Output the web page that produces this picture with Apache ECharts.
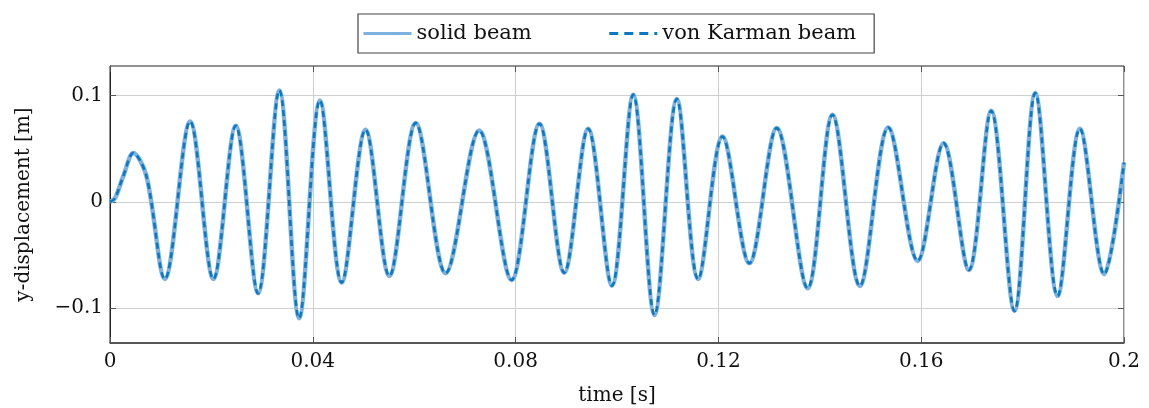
<!DOCTYPE html>
<html>
<head>
<meta charset="utf-8">
<script src="https://cdn.jsdelivr.net/npm/echarts@6/dist/echarts.min.js"></script>
<style>
html,body{margin:0;padding:0;background:#fff;}
#chart{width:1149px;height:408px;}
</style>
</head>
<body>
<div id="chart"></div>
<script>
// time [s] of the turning points (start, shoulder, peaks, troughs, end)
const time = [
  0, 0.0010, 0.0026, 0.0046, 0.0072, 0.0108, 0.0158, 0.0204, 0.0248, 0.0292,
  0.0334, 0.0373, 0.0414, 0.0457, 0.0504, 0.0551, 0.0603, 0.0662, 0.0728, 0.0792,
  0.0847, 0.0896, 0.0943, 0.0990, 0.1032, 0.1074, 0.1118, 0.1160, 0.1208, 0.1261,
  0.1315, 0.1376, 0.1425, 0.1479, 0.1535, 0.1593, 0.1644, 0.1694, 0.1738, 0.1784,
  0.1825, 0.1869, 0.1913, 0.1961, 0.2000
];
// y-displacement [m], solid beam
const solidBeam = [
  0, 0.0035, 0.024, 0.046, 0.024, -0.0727, 0.0758, -0.0727, 0.0717, -0.0862,
  0.105, -0.1097, 0.0956, -0.0761, 0.068, -0.0698, 0.0742, -0.0673, 0.0673, -0.0736,
  0.0736, -0.0667, 0.0689, -0.079, 0.101, -0.1066, 0.0969, -0.0727, 0.0616, -0.0578,
  0.0695, -0.0814, 0.0821, -0.0792, 0.0701, -0.0557, 0.0553, -0.0642, 0.0858, -0.1028,
  0.1025, -0.0887, 0.0689, -0.0682, 0.037
];
// y-displacement [m], von Karman beam (overlaps the solid beam)
const vonKarman = [
  0, 0.0035, 0.024, 0.046, 0.024, -0.0727, 0.0758, -0.0727, 0.0717, -0.0862,
  0.105, -0.1097, 0.0956, -0.0761, 0.068, -0.0698, 0.0742, -0.0673, 0.0673, -0.0736,
  0.0736, -0.0667, 0.0689, -0.079, 0.101, -0.1066, 0.0969, -0.0727, 0.0616, -0.0578,
  0.0695, -0.0814, 0.0821, -0.0792, 0.0701, -0.0557, 0.0553, -0.0642, 0.0858, -0.1028,
  0.1025, -0.0887, 0.0689, -0.0682, 0.037
];
const yTicks = [-0.1, 0, 0.1];
const seriesNames = ['solid beam', 'von Karman beam'];

const FONT = 'DejaVu Serif';
const zip = (a, b) => a.map((t, i) => [t, b[i]]);
const fmtY = v => v < 0 ? '\u2212' + Math.abs(v) : String(v);
const fmtX = v => String(Math.round(v * 100) / 100);

const chart = echarts.init(document.getElementById('chart'), null, {renderer: 'canvas'});
const tickStyle = {show: true, inside: true, length: 6, lineStyle: {color: '#555', width: 1}};
chart.setOption({
  animation: false,
  backgroundColor: '#fff',
  textStyle: {fontFamily: FONT},
  legend: {
    data: [
      {name: seriesNames[0]},
      {name: seriesNames[1], lineStyle: {type: [9, 6], width: 3}}
    ],
    left: 358, top: 14,
    padding: [9, 18, 9, 4],
    itemWidth: 48, itemHeight: 14, itemGap: 76,
    borderColor: '#444', borderWidth: 1.2,
    itemStyle: {opacity: 0},
    lineStyle: {width: 3},
    textStyle: {fontFamily: FONT, fontSize: 21, color: '#111'}
  },
  grid: {left: 110, right: 25, top: 66, bottom: 65, show: true, borderColor: '#222', borderWidth: 1,
         containLabel: false, outerBoundsMode: 'none'},
  xAxis: [{
    type: 'value', min: 0, max: 0.2, interval: 0.04,
    name: 'time [s]', nameLocation: 'middle', nameGap: 43,
    nameTextStyle: {fontFamily: FONT, fontSize: 20, color: '#111', verticalAlign: 'top'},
    axisLine: {show: true, onZero: false, lineStyle: {color: '#444', width: 1.5}},
    axisTick: tickStyle,
    axisLabel: {formatter: fmtX, fontFamily: FONT, fontSize: 20, color: '#111', margin: 9},
    splitLine: {show: true, lineStyle: {color: '#cfcfcf', width: 1}}
  }, {
    type: 'value', min: 0, max: 0.2, interval: 0.04, position: 'top',
    axisLine: {show: false, onZero: false}, axisTick: tickStyle, axisLabel: {show: false}, splitLine: {show: false}
  }],
  yAxis: [{
    type: 'value', min: -0.133, max: 0.128,
    name: 'y-displacement [m]', nameLocation: 'middle', nameGap: 76,
    nameTextStyle: {fontFamily: FONT, fontSize: 20, color: '#111'},
    axisLine: {show: true, onZero: false, lineStyle: {color: '#222', width: 1}},
    axisTick: Object.assign({customValues: yTicks}, tickStyle),
    axisLabel: {customValues: yTicks, formatter: fmtY, fontFamily: FONT, fontSize: 20, color: '#111', margin: 7},
    splitLine: {show: true, lineStyle: {color: '#cfcfcf', width: 1}}
  }, {
    type: 'value', min: -0.133, max: 0.128, position: 'right',
    axisLine: {show: false, onZero: false},
    axisTick: Object.assign({customValues: yTicks}, tickStyle),
    axisLabel: {show: false}, splitLine: {show: false}
  }],
  series: [{
    name: seriesNames[0], type: 'line', data: zip(time, solidBeam),
    smooth: 0.34, symbol: 'none', showSymbol: false,
    lineStyle: {color: '#7db2e0', width: 4.5},
    itemStyle: {color: '#7db2e0'}
  }, {
    name: seriesNames[1], type: 'line', data: zip(time, vonKarman),
    smooth: 0.34, symbol: 'none', showSymbol: false,
    lineStyle: {color: '#0b78c6', width: 2.6, type: [6, 4]},
    itemStyle: {color: '#0b78c6'}
  }]
});
</script>
</body>
</html>
